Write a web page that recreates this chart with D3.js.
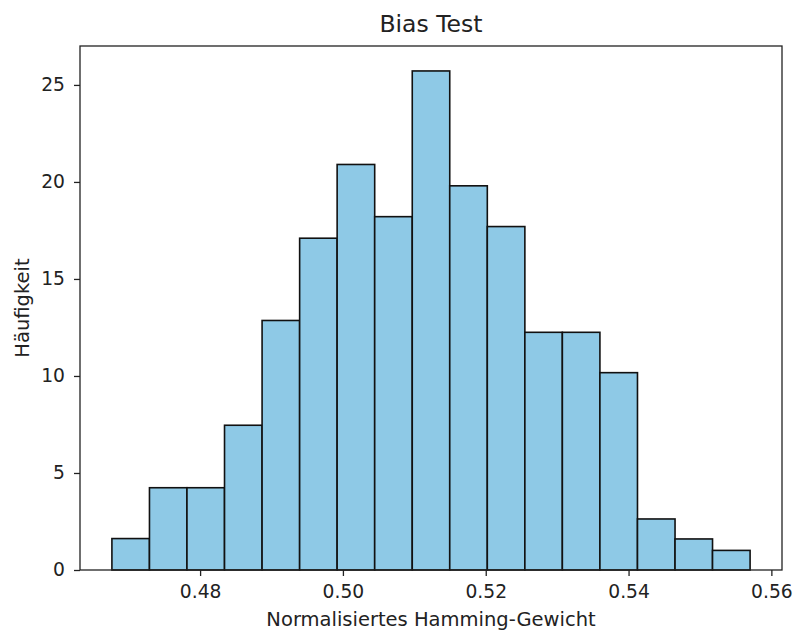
<!DOCTYPE html>
<html>
<head>
<meta charset="utf-8">
<script src="https://cdn.jsdelivr.net/npm/d3@7"></script>
<style>
  body { margin: 0; background: #fff; }
  text { font-family: "DejaVu Sans", sans-serif; fill: #222; }
</style>
</head>
<body>
<div id="container"></div>
<script>
// histogram bins (edges) and their heights
const binEdges = [0.46765, 0.47291, 0.47816, 0.48342, 0.48868, 0.49394, 0.49919, 0.50445, 0.50971,
  0.51496, 0.52022, 0.52548, 0.53073, 0.53599, 0.54125, 0.54651, 0.55176, 0.55702];
const heights = [1.62, 4.24, 4.24, 7.46, 12.86, 17.1, 20.9, 18.21, 25.72, 19.8, 17.7, 12.25, 12.25, 10.17, 2.63, 1.6, 1.01];
const xTicks = [0.48, 0.50, 0.52, 0.54, 0.56];
const yTicks = [0, 5, 10, 15, 20, 25];

const width = 795, height = 630;
const margin = { top: 46, right: 13, bottom: 60, left: 80 };

const svg = d3.select("#container").append("svg")
  .attr("width", width)
  .attr("height", height);

const span = binEdges[binEdges.length - 1] - binEdges[0];
const x = d3.scaleLinear()
  .domain([binEdges[0] - span * 0.05, binEdges[binEdges.length - 1] + span * 0.05])
  .range([margin.left, width - margin.right]);
const y = d3.scaleLinear()
  .domain([0, d3.max(heights) * 1.05])
  .range([height - margin.bottom, margin.top]);

// bars
svg.append("g").selectAll("rect")
  .data(heights)
  .join("rect")
  .attr("x", (d, i) => x(binEdges[i]))
  .attr("y", d => y(d))
  .attr("width", (d, i) => x(binEdges[i + 1]) - x(binEdges[i]))
  .attr("height", d => y(0) - y(d))
  .attr("fill", "#8ec9e6")
  .attr("stroke", "#111")
  .attr("stroke-width", 1.6);

// axes
const xAxis = svg.append("g")
  .attr("transform", `translate(0,${height - margin.bottom})`)
  .call(d3.axisBottom(x).tickValues(xTicks).tickFormat(d3.format(".2f")).tickSizeOuter(0).tickSize(6).tickPadding(9));
const yAxis = svg.append("g")
  .attr("transform", `translate(${margin.left},0)`)
  .call(d3.axisLeft(y).tickValues(yTicks).tickFormat(d3.format("d")).tickSizeOuter(0).tickSize(6).tickPadding(9));

[xAxis, yAxis].forEach(a => {
  a.select(".domain").remove();
  a.selectAll(".tick line").attr("stroke", "#222").attr("stroke-width", 1.3);
  a.selectAll(".tick text").attr("font-size", 18.7).attr("font-family", "DejaVu Sans").attr("fill", "#222");
});

// frame
svg.append("rect")
  .attr("x", margin.left)
  .attr("y", margin.top)
  .attr("width", width - margin.left - margin.right)
  .attr("height", height - margin.top - margin.bottom)
  .attr("fill", "none")
  .attr("stroke", "#222")
  .attr("stroke-width", 1.3);

// labels
svg.append("text")
  .attr("x", (margin.left + width - margin.right) / 2)
  .attr("y", 32)
  .attr("text-anchor", "middle")
  .attr("font-size", 23.5)
  .text("Bias Test");

svg.append("text")
  .attr("x", (margin.left + width - margin.right) / 2)
  .attr("y", 626)
  .attr("text-anchor", "middle")
  .attr("font-size", 19.5)
  .text("Normalisiertes Hamming-Gewicht");

svg.append("text")
  .attr("transform", `translate(29,${(margin.top + height - margin.bottom) / 2}) rotate(-90)`)
  .attr("text-anchor", "middle")
  .attr("font-size", 19.5)
  .text("Häufigkeit");
</script>
</body>
</html>
